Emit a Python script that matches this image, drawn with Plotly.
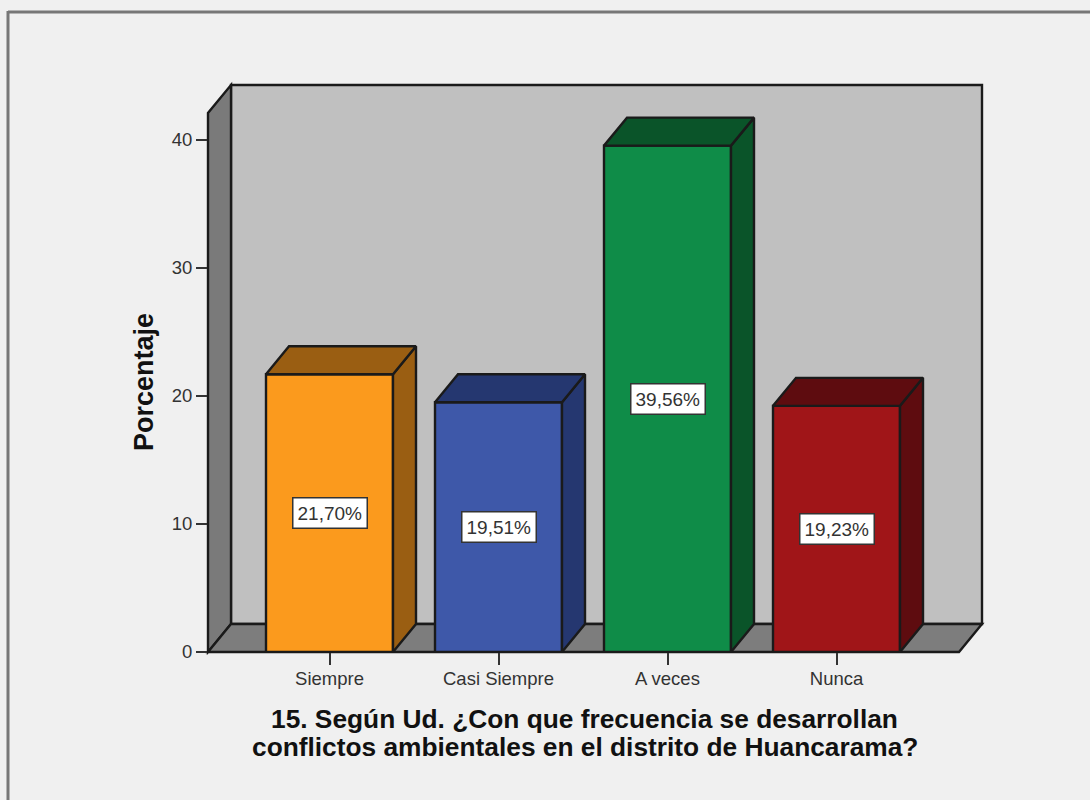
import plotly.graph_objects as go

categories = ["Siempre", "Casi Siempre", "A veces", "Nunca"]
values = [21.70, 19.51, 39.56, 19.23]
labels = ["21,70%", "19,51%", "39,56%", "19,23%"]
front_colors = ["#fb9a1d", "#3e58a9", "#0f8c48", "#a01518"]
shade_colors = ["#9a5e12", "#253770", "#0a5429", "#5e0c0f"]
y_ticks = [0, 10, 20, 30, 40]
title_lines = ["15. Según Ud. ¿Con que frecuencia se desarrollan",
               "conflictos ambientales en el distrito de Huancarama?"]
y_title = "Porcentaje"

W, H = 1090, 800
L, R, T, B = 208, 982, 85, 652
PX_PER_CAT = 169.0
PX_PER_UNIT = 12.8
X0_PX = 329.5
BAR_W = 127 / PX_PER_CAT
DX_PX, DY_PX = 23, 28
DX = DX_PX / PX_PER_CAT
DY = DY_PX / PX_PER_UNIT
x_range = [(L - X0_PX) / PX_PER_CAT, (R - X0_PX) / PX_PER_CAT]
y_top = (B - T) / PX_PER_UNIT
EDGE = "#1a1a1a"
INK = "#333333"
FONT = "Liberation Sans, Arial, sans-serif"
LW = 2.4


def px_x(p):
    return (p - L) / (R - L)


def px_y(p):
    return (B - p) / (B - T)


fig = go.Figure()


def path(points):
    return "M " + " L ".join(f"{px_x(x)} {px_y(y)}" for x, y in points) + " Z"


wall_back = [(L + DX_PX, B - DY_PX), (R, B - DY_PX), (R, T), (L + DX_PX, T)]
wall_left = [(L, B), (L + DX_PX, B - DY_PX), (L + DX_PX, T), (L, T + DY_PX)]
floor = [(L, B), (R - DX_PX, B), (R, B - DY_PX), (L + DX_PX, B - DY_PX)]
shapes = []
for pts, col in [(wall_back, "#c0c0c0"), (wall_left, "#7a7a7a"), (floor, "#7d7d7d")]:
    shapes.append(dict(type="path", path=path(pts), xref="paper", yref="paper", layer="below",
                       fillcolor=col, line=dict(color=EDGE, width=LW)))

# outer frame of the picture
shapes.append(dict(type="line", xref="paper", yref="paper",
                   x0=px_x(8), x1=px_x(W), y0=px_y(12), y1=px_y(12),
                   line=dict(color="#777777", width=3), layer="below"))
shapes.append(dict(type="line", xref="paper", yref="paper",
                   x0=px_x(8), x1=px_x(8), y0=px_y(11), y1=px_y(H),
                   line=dict(color="#777777", width=3), layer="below"))

fig.add_trace(go.Bar(x=list(range(len(values))), y=values, width=BAR_W,
                     marker=dict(color=front_colors, line=dict(color=EDGE, width=LW)),
                     cliponaxis=False, hoverinfo="skip", showlegend=False))

for i, (v, c) in enumerate(zip(values, shade_colors)):
    a, b = i - BAR_W / 2, i + BAR_W / 2
    fig.add_trace(go.Scatter(x=[b, b + DX, b + DX, b, b], y=[0, DY, v + DY, v, 0],
                             mode="lines", fill="toself", fillcolor=c,
                             line=dict(color=EDGE, width=LW), cliponaxis=False,
                             hoverinfo="skip", showlegend=False))
    fig.add_trace(go.Scatter(x=[a, a + DX, b + DX, b, a], y=[v, v + DY, v + DY, v, v],
                             mode="lines", fill="toself", fillcolor=c,
                             line=dict(color=EDGE, width=LW), cliponaxis=False,
                             hoverinfo="skip", showlegend=False))
    fig.add_annotation(x=i, y=v / 2, text=labels[i], showarrow=False,
                       font=dict(family=FONT, size=19, color=INK),
                       bgcolor="#ffffff", bordercolor="#333333", borderwidth=1.5, borderpad=4)

title_font = dict(family=FONT, size=26.3, color="#111111", weight="bold")
for line, yp in zip(title_lines, [719, 747]):
    fig.add_annotation(xref="paper", yref="paper", x=px_x(584.5), y=px_y(yp), text=line,
                       showarrow=False, xanchor="center", yanchor="middle", font=title_font)
fig.add_annotation(xref="paper", yref="paper", x=px_x(144), y=px_y(382), text=y_title,
                   textangle=-90, showarrow=False, xanchor="center", yanchor="middle",
                   font=dict(family=FONT, size=27, color="#111111", weight="bold"))

fig.update_layout(
    width=W, height=H, autosize=False,
    margin=dict(l=L, r=W - R, t=T, b=H - B, pad=0),
    paper_bgcolor="#f0f0f0", plot_bgcolor="#f0f0f0",
    shapes=shapes, font=dict(family=FONT, color=INK), showlegend=False,
    xaxis=dict(range=x_range, tickmode="array", tickvals=list(range(len(categories))),
               ticktext=categories, ticks="outside", ticklen=12, tickwidth=1.5, tickcolor=INK,
               tickfont=dict(size=18.5, color=INK), showgrid=False, zeroline=False, showline=False,
               ticklabelstandoff=-2),
    yaxis=dict(range=[0, y_top], tickmode="array", tickvals=y_ticks,
               ticks="outside", ticklen=11, tickwidth=1.5, tickcolor=INK,
               tickfont=dict(size=18.5, color=INK), showgrid=False, zeroline=False, showline=False),
)

fig.write_html("out.html", config={"displayModeBar": False},
               post_script="document.body.style.margin='0';document.documentElement.style.overflow='hidden';")
